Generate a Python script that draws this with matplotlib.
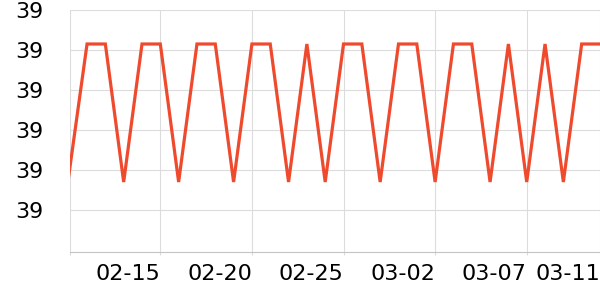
import matplotlib
matplotlib.use("Agg")
import matplotlib.pyplot as plt
import matplotlib.dates as mdates
import matplotlib.transforms as mtransforms
import numpy as np
import pandas as pd

# daily readings 02-10 .. 03-11
dates = pd.date_range("2023-02-10", "2023-03-11", freq="D")
values = [39.017, 39.083, 39.083, 39.014, 39.083, 39.083, 39.014, 39.083,
          39.083, 39.014, 39.083, 39.083, 39.014, 39.083, 39.014, 39.083,
          39.083, 39.014, 39.083, 39.083, 39.014, 39.083, 39.083, 39.014,
          39.083, 39.014, 39.083, 39.014, 39.083, 39.083]

tick_dates = ["2023-02-15", "2023-02-20", "2023-02-25", "2023-03-02",
              "2023-03-07", "2023-03-11"]
tick_labels = ["02-15", "02-20", "02-25", "03-02", "03-07", "03-11"]
y_ticks = [39.00, 39.02, 39.04, 39.06, 39.08, 39.10]

line_color = "#ef4a2d"
grid_color = "#dcdcdc"

fig = plt.figure(figsize=(6, 3), dpi=100)
ax = fig.add_axes([70 / 600, 48 / 300, 530 / 600, 242 / 300])

ax.plot(dates, values, color=line_color, lw=2.3, solid_joinstyle="miter")

x0 = mdates.date2num(dates[0]) + 0.07
x1 = mdates.date2num(dates[-1])
ax.set_xlim(x0, x1)
ax.set_ylim(38.979, 39.10)

xt = [x0] + [mdates.date2num(pd.Timestamp(d)) for d in tick_dates]
ax.set_xticks(xt)
ax.set_xticklabels([""] + tick_labels, ha="right", fontsize=16)
ax.set_yticks(y_ticks)
ax.set_yticklabels(["%.0f" % v for v in y_ticks], fontsize=16)

# labels sit just left of their tick
shift = mtransforms.ScaledTranslation(-2 / 100, 0, fig.dpi_scale_trans)
for lbl in ax.get_xticklabels():
    lbl.set_transform(lbl.get_transform() + shift)

ax.grid(True, color=grid_color, lw=0.8)
ax.set_axisbelow(True)
for s in ["top", "right", "left"]:
    ax.spines[s].set_visible(False)
ax.spines["bottom"].set_color("#c4c4c4")
ax.spines["bottom"].set_linewidth(0.8)

ax.tick_params(axis="x", length=2.5, color=grid_color, pad=6, labelcolor="black")
ax.tick_params(axis="y", length=0, pad=19, labelcolor="black")

fig.savefig("out.png", dpi=100)
